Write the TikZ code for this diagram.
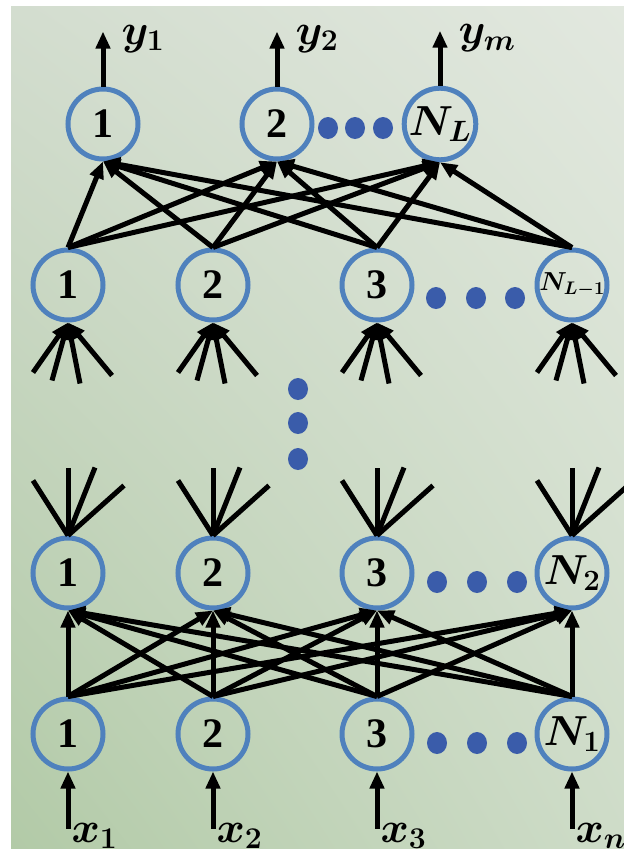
\RequirePackage{fix-cm}
\documentclass[tikz,border=0pt]{standalone}
\usepackage{amsmath}
\usepackage{fontspec}
\setmainfont{Liberation Serif}
\usetikzlibrary{arrows.meta,shadings}

\definecolor{ringblue}{RGB}{79,129,189}
\definecolor{dotblue}{RGB}{58,92,170}
\definecolor{bgUL}{RGB}{211,221,207}
\definecolor{bgUR}{RGB}{226,232,223}
\definecolor{bgLL}{RGB}{178,202,167}
\definecolor{bgLR}{RGB}{206,220,200}

\begin{document}
\begin{tikzpicture}[x=1pt,y=-1pt,line width=5pt,>={Triangle[length=17pt,width=14pt]},
  neuron/.style={circle,draw=ringblue,line width=5pt,minimum size=70pt,inner sep=0pt,
    font=\fontsize{42}{46}\selectfont\bfseries\boldmath},
  lbl/.style={inner sep=0pt,font=\fontsize{43}{47}\selectfont\boldmath},
  dot/.style={fill=dotblue}]
  \useasboundingbox (0,0) rectangle (624,857);
  \fill[white] (0,0) rectangle (624,857);
  \shade[upper left=bgUL,upper right=bgUR,lower left=bgLL,lower right=bgLR] (11,6) rectangle (624,848);

  % output layer
  \node[neuron] (o1) at (103,124) {1};
  \node[neuron] (o2) at (277,124) {2};
  \node[neuron] (o3) at (440,124) {$N_L$};
  \foreach \x in {328,355,383} \path[dot] (\x,128) ellipse [x radius=10,y radius=11];

  % layer L-1
  \node[neuron] (h1) at (68,285) {1};
  \node[neuron] (h2) at (213,285) {2};
  \node[neuron] (h3) at (377,285) {3};
  \node[neuron,font=\fontsize{26}{29}\selectfont\bfseries\boldmath] (h4) at (572,285) {$N_{L-1}$};
  \foreach \x in {436,476,515} \path[dot] (\x,298) ellipse [x radius=10,y radius=11];

  % skipped layers
  \foreach \y in {389,423,459} \path[dot] (298,\y) ellipse [x radius=10,y radius=11];

  % layer 2
  \node[neuron] (b1) at (68,573) {1};
  \node[neuron] (b2) at (213,573) {2};
  \node[neuron] (b3) at (377,573) {3};
  \node[neuron] (b4) at (572,573) {$N_2$};
  \foreach \x in {437,477,517} \path[dot] (\x,582) ellipse [x radius=10,y radius=11];

  % layer 1
  \node[neuron] (a1) at (68,734) {1};
  \node[neuron] (a2) at (213,734) {2};
  \node[neuron] (a3) at (377,734) {3};
  \node[neuron] (a4) at (572,734) {$N_1$};
  \foreach \x in {437,477,517} \path[dot] (\x,743) ellipse [x radius=10,y radius=11];

  % weights
  \foreach \i in {1,...,4} \foreach \j in {1,2,3} \draw[->] (h\i.north) -- (o\j.south);
  \foreach \i in {1,...,4} \foreach \j in {1,...,4} \draw[->] (a\i.north) -- (b\j.south);

  % links to the hidden layers in between
  \foreach \i in {1,...,4} \foreach \dx/\dy in {-35/50,-16/58,12/61,44/53}
    \draw[<-] (h\i.south) -- ++(\dx,\dy);
  \foreach \i in {1,...,4} \foreach \dx/\dy in {-35/-55,0/-68,27/-68,56/-50}
    \draw (b\i.north) -- ++(\dx,\dy);

  % outputs and inputs
  \foreach \i/\lab in {1/y_1,2/y_2,3/y_m}
    \draw[->] (o\i.north) -- ++(0,-55) node[lbl,anchor=base west,xshift=16pt,yshift=-13pt] {$\lab$};
  \foreach \i/\lab in {1/x_1,2/x_2,3/x_3,4/x_n}
    \draw[<-] (a\i.south) -- ++(0,57) node[lbl,anchor=north west,xshift=1pt,yshift=8pt] {$\lab$};
\end{tikzpicture}
\end{document}
